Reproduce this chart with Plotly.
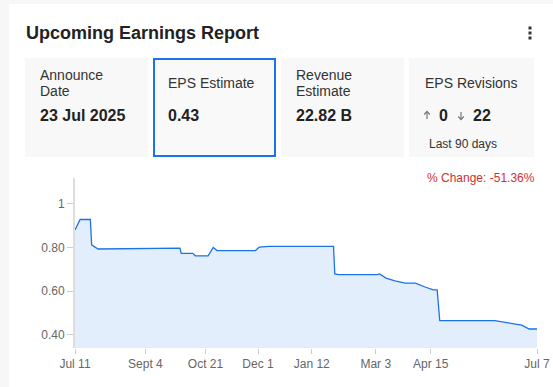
import plotly.graph_objects as go

# ---- data ----
dates = ["2024-07-11", "2024-07-15", "2024-07-23", "2024-07-24", "2024-07-29",
         "2024-08-20", "2024-09-19", "2024-10-01", "2024-10-02", "2024-10-11",
         "2024-10-13", "2024-10-23", "2024-10-27", "2024-10-30", "2024-11-29",
         "2024-12-02", "2024-12-10", "2025-01-29", "2025-01-30", "2025-02-02",
         "2025-03-04", "2025-03-06", "2025-03-11", "2025-03-18", "2025-03-26",
         "2025-04-03", "2025-04-11", "2025-04-17", "2025-04-20", "2025-04-22",
         "2025-06-04", "2025-06-15", "2025-06-25", "2025-07-01", "2025-07-07"]
eps = [0.880, 0.928, 0.928, 0.812, 0.793,
       0.794, 0.795, 0.797, 0.773, 0.773,
       0.762, 0.762, 0.800, 0.786, 0.786,
       0.802, 0.805, 0.805, 0.679, 0.676,
       0.676, 0.679, 0.660, 0.647, 0.637,
       0.637, 0.618, 0.606, 0.606, 0.465,
       0.465, 0.456, 0.445, 0.427, 0.427]
tick_vals = ["2024-07-11", "2024-09-04", "2024-10-21", "2024-12-01",
             "2025-01-12", "2025-03-03", "2025-04-15", "2025-07-07"]
tick_text = ["Jul 11", "Sept 4", "Oct 21", "Dec 1", "Jan 12", "Mar 3", "Apr 15", "Jul 7"]
y_tick_vals = [0.4, 0.6, 0.8, 1.0]
y_tick_text = ["0.40", "0.60", "0.80", "1"]

title = "Upcoming Earnings Report"
pct_change = "% Change: -51.36%"

# ---- layout geometry (pixels) ----
W, H = 553, 387
L, R, T, B = 75, 537, 178, 348
PW, PH = R - L, B - T


def px(x):
    return (x - L) / PW


def py(y):
    return (B - y) / PH


FONT = "Liberation Sans, Arial, sans-serif"
LINE = "#1a73e8"

fig = go.Figure()
fig.add_trace(go.Scatter(
    x=dates, y=eps, mode="lines",
    line=dict(color=LINE, width=1.3),
    fill="tozeroy", fillcolor="rgba(26,115,232,0.12)",
    hoverinfo="x+y", showlegend=False))

shapes = []
# white card
shapes.append(dict(type="rect", xref="paper", yref="paper", layer="below",
                   x0=px(9), x1=px(560), y0=py(4), y1=py(395),
                   fillcolor="white", line=dict(width=0)))
# tiles
tiles = [(25, 148), (153, 276), (281, 404), (409, 534)]
for i, (a, b) in enumerate(tiles):
    if i == 1:
        shapes.append(dict(type="rect", xref="paper", yref="paper", layer="below",
                           x0=px(a + 1), x1=px(b - 1), y0=py(59), y1=py(156),
                           fillcolor="#f9f9f9", line=dict(color=LINE, width=2)))
    else:
        shapes.append(dict(type="rect", xref="paper", yref="paper", layer="below",
                           x0=px(a), x1=px(b), y0=py(58), y1=py(157),
                           fillcolor="#f8f8f8", line=dict(width=0)))
# kebab dots
for yy in (28, 33, 38):
    shapes.append(dict(type="rect", xref="paper", yref="paper",
                       x0=px(528.5), x1=px(531.5), y0=py(yy - 1.5), y1=py(yy + 1.5),
                       fillcolor="#333", line=dict(width=0)))


def arrow(x, y_head, direction):
    # direction: -1 = up, +1 = down ; stem 7px, head 3px
    y_tail = y_head - direction * 7.5
    y_wing = y_head - direction * 3
    shapes.append(dict(type="line", xref="paper", yref="paper",
                       x0=px(x), x1=px(x), y0=py(y_head), y1=py(y_tail),
                       line=dict(color="#777", width=1.2)))
    path = "M %f %f L %f %f L %f %f" % (px(x - 2.8), py(y_wing), px(x), py(y_head),
                                        px(x + 2.8), py(y_wing))
    shapes.append(dict(type="path", xref="paper", yref="paper", path=path,
                       line=dict(color="#777", width=1.2)))


arrow(427, 111.5, -1)
arrow(461, 119.5, 1)

ann = []


def text(x, y, s, size, bold=False, color="#333", xanchor="left"):
    ann.append(dict(xref="paper", yref="paper", x=px(x), y=py(y), text=("<b>%s</b>" % s) if bold else s,
                    showarrow=False, xanchor=xanchor, yanchor="middle",
                    font=dict(family=FONT, size=size, color=color)))


text(24, 33, title, 18, bold=True, color="#222")
text(38, 75, "Announce", 14)
text(38, 91, "Date", 14)
text(38, 115, "23 Jul 2025", 16, bold=True, color="#222")
text(166, 83, "EPS Estimate", 14)
text(166, 115, "0.43", 16, bold=True, color="#222")
text(294, 75, "Revenue", 14)
text(294, 91, "Estimate", 14)
text(294, 115, "22.82 B", 16, bold=True, color="#222")
text(423, 83, "EPS Revisions", 14)
text(437, 115, "0", 16, bold=True, color="#222")
text(471, 115, "22", 16, bold=True, color="#222")
text(427, 144, "Last 90 days", 12)
text(537, 178, pct_change, 12, color="#d32f2f", xanchor="right")

fig.update_layout(
    width=W, height=H, autosize=False,
    margin=dict(l=L, r=W - R, t=T, b=H - B, pad=0, autoexpand=False),
    paper_bgcolor="#f7f7f7", plot_bgcolor="rgba(0,0,0,0)",
    shapes=shapes, annotations=ann,
    font=dict(family=FONT, size=12, color="#666"),
    xaxis=dict(type="date", range=["2024-07-11", "2025-07-07"],
               tickvals=tick_vals, ticktext=tick_text, automargin=False,
               showgrid=False, zeroline=False, showline=False,
               ticks="outside", ticklen=5, tickcolor="#ccc",
               tickfont=dict(size=12, color="#666"), fixedrange=True),
    yaxis=dict(range=[0.34, 1.118], tickvals=y_tick_vals, ticktext=y_tick_text,
               automargin=False,
               showgrid=False, zeroline=False, showline=True, linecolor="#ddd", linewidth=2,
               ticks="outside", ticklen=6, tickcolor="#ccc",
               tickfont=dict(size=12, color="#666"), fixedrange=True),
)

fig.write_html("out.html", config={"displayModeBar": False},
               post_script="document.body.style.margin='0';document.body.style.overflow='hidden';document.body.style.background='#f7f7f7';")
